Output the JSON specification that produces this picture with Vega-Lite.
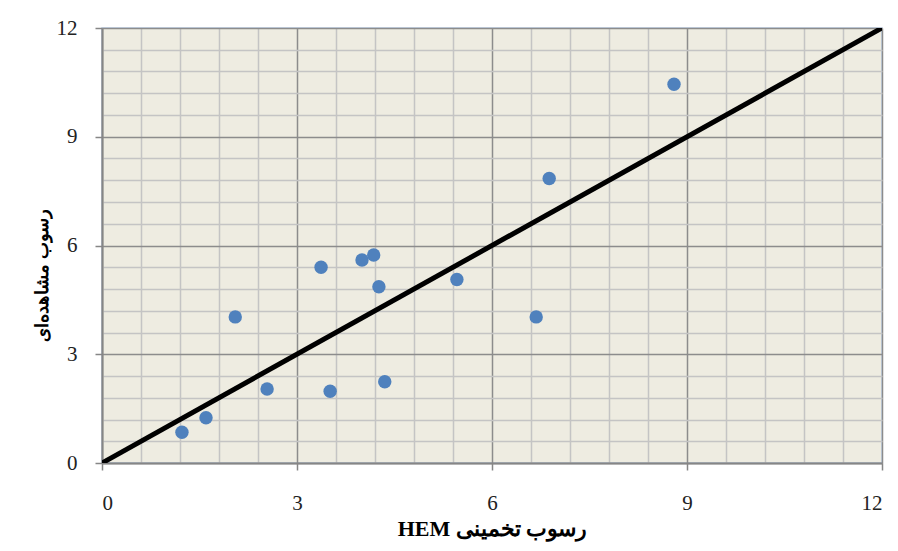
{
  "$schema": "https://vega.github.io/schema/vega-lite/v6.json",
  "width": 780,
  "height": 435,
  "autosize": {"type": "none"},
  "padding": {"left": 102, "top": 28, "right": 16, "bottom": 88},
  "background": "white",
  "datasets": {
    "points": [
      {"hem": 1.23, "obs": 0.85},
      {"hem": 1.6, "obs": 1.25},
      {"hem": 2.05, "obs": 4.03},
      {"hem": 2.54, "obs": 2.04},
      {"hem": 3.37, "obs": 5.4},
      {"hem": 3.51, "obs": 1.98},
      {"hem": 4.0, "obs": 5.6},
      {"hem": 4.18, "obs": 5.74},
      {"hem": 4.26, "obs": 4.86},
      {"hem": 4.35, "obs": 2.24},
      {"hem": 5.46, "obs": 5.06},
      {"hem": 6.68, "obs": 4.03},
      {"hem": 6.88, "obs": 7.85},
      {"hem": 8.8, "obs": 10.45}
    ],
    "line": [
      {"hem": 0, "obs": 0},
      {"hem": 12, "obs": 12}
    ]
  },
  "config": {
    "view": {"fill": "#EEECE1", "stroke": "#B9CDE5", "strokeWidth": 1.5},
    "axis": {
      "domainColor": "#868686",
      "domainWidth": 2,
      "gridWidth": 1.5,
      "gridOpacity": 1,
      "tickSize": 7,
      "tickWidth": 1.5,
      "tickCount": 100,
      "labelOverlap": false,
      "labelFont": "Liberation Serif",
      "labelFontSize": 21,
      "labelColor": "#222222",
      "titleFont": "Liberation Serif",
      "titleFontWeight": "bold",
      "titleFontSize": 19,
      "titleColor": "#000000"
    }
  },
  "layer": [
    {
      "data": {"name": "points"},
      "mark": {"type": "point", "filled": true, "size": 180, "opacity": 1, "color": "#4F81BD", "shape": "circle"},
      "encoding": {
        "x": {
          "field": "hem", "type": "quantitative",
          "scale": {"domain": [0, 12], "nice": false, "zero": true},
          "axis": {
            "title": "HEM رسوب تخمینی",
            "titleFontSize": 22,
            "values": [0, 0.6, 1.2, 1.8, 2.4, 3, 3.6, 4.2, 4.8, 5.4, 6, 6.6, 7.2, 7.8, 8.4, 9, 9.6, 10.2, 10.8, 11.4, 12],
            "labelExpr": "datum.value % 3 === 0 ? format(datum.value, 'd') : ''",
            "gridColor": {"condition": {"test": "datum.value % 3 === 0", "value": "#8C8C8C"}, "value": "#C4C4C4"},
            "tickColor": {"condition": {"test": "datum.value % 3 === 0", "value": "#868686"}, "value": "transparent"},
            "labelPadding": 22,
            "titlePadding": 5
          }
        },
        "y": {
          "field": "obs", "type": "quantitative",
          "scale": {"domain": [0, 12], "nice": false, "zero": true},
          "axis": {
            "title": "رسوب مشاهده‌ای",
            "titleFontSize": 17.5,
            "values": [0, 0.6, 1.2, 1.8, 2.4, 3, 3.6, 4.2, 4.8, 5.4, 6, 6.6, 7.2, 7.8, 8.4, 9, 9.6, 10.2, 10.8, 11.4, 12],
            "labelExpr": "datum.value % 3 === 0 ? format(datum.value, 'd') : ''",
            "gridColor": {"condition": {"test": "datum.value % 3 === 0", "value": "#8C8C8C"}, "value": "#C4C4C4"},
            "tickColor": {"condition": {"test": "datum.value % 3 === 0", "value": "#868686"}, "value": "transparent"},
            "labelPadding": 18,
            "titleX": -60,
            "titleY": 247,
            "titleBaseline": "middle"
          }
        }
      }
    },
    {
      "data": {"name": "line"},
      "mark": {"type": "line", "color": "#000000", "strokeWidth": 5, "clip": true},
      "encoding": {
        "x": {"field": "hem", "type": "quantitative"},
        "y": {"field": "obs", "type": "quantitative"}
      }
    }
  ]
}
